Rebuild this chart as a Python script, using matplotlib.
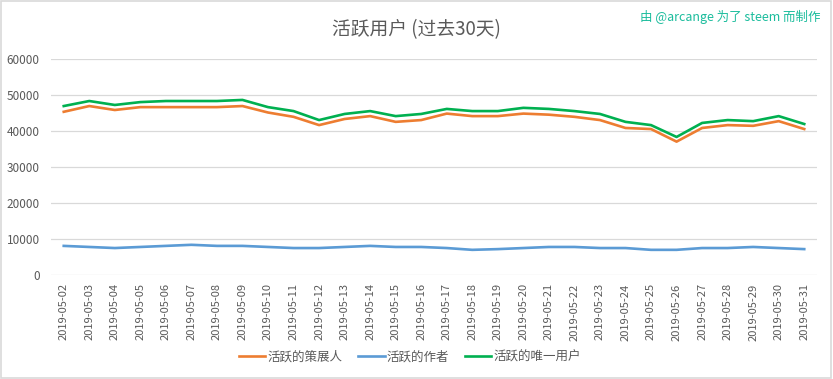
import matplotlib
matplotlib.use("Agg")
import matplotlib.pyplot as plt
from matplotlib.patches import Rectangle

plt.rcParams['font.family'] = ['Noto Sans CJK SC', 'DejaVu Sans']

dates = [f"2019-05-{d:02d}" for d in range(2, 32)]
curators = [45400, 47000, 45900, 46700, 46700, 46700, 46700, 47000, 45200, 44000,
            41700, 43400, 44200, 42600, 43100, 44900, 44200, 44200, 44900, 44600,
            44000, 43100, 40900, 40600, 37100, 40900, 41700, 41500, 42800, 40600]
authors = [8100, 7800, 7500, 7800, 8100, 8400, 8100, 8100, 7800, 7500,
           7500, 7800, 8100, 7800, 7800, 7500, 7000, 7200, 7500, 7800,
           7800, 7500, 7500, 7000, 7000, 7500, 7500, 7800, 7500, 7200]
unique = [47000, 48400, 47300, 48100, 48400, 48400, 48400, 48700, 46700, 45600,
          43100, 44800, 45600, 44200, 44800, 46200, 45600, 45600, 46500, 46200,
          45600, 44800, 42600, 41700, 38400, 42300, 43100, 42800, 44200, 42000]
series_names = ["活跃的策展人", "活跃的作者", "活跃的唯一用户"]
yticks = [0, 10000, 20000, 30000, 40000, 50000, 60000]

fig = plt.figure(figsize=(8.33, 3.79), dpi=100)
ax = fig.add_axes([0.0612, 0.2744, 0.9196, 0.5691])

x = list(range(len(dates)))
ax.plot(x, curators, color="#ED7D31", lw=1.9, label=series_names[0], solid_joinstyle="round")
ax.plot(x, authors, color="#5B9BD5", lw=1.9, label=series_names[1], solid_joinstyle="round")
ax.plot(x, unique, color="#00B050", lw=1.9, label=series_names[2], solid_joinstyle="round")

ax.set_xlim(-0.5, len(dates) - 0.5)
ax.set_ylim(0, 60000)
ax.set_yticks(yticks)
ax.set_yticklabels([str(v) for v in yticks])
ax.set_xticks(x)
ax.set_xticklabels(dates, rotation=90)
ax.tick_params(axis='both', length=0, colors="#595959", labelsize=8.5)
ax.tick_params(axis='x', labelsize=8)
ax.tick_params(axis='y', pad=8)
ax.tick_params(axis='x', pad=6)
ax.grid(axis='y', color="#D9D9D9", lw=0.9)
ax.set_axisbelow(True)
for s in ax.spines.values():
    s.set_visible(False)

fig.text(0.5, 0.922, "活跃用户 (过去30天)", ha="center", va="center",
         fontsize=13.5, color="#595959", fontweight="light")
fig.text(0.985, 0.955, "由 @arcange 为了 steem 而制作", ha="right", va="center",
         fontsize=9, color="#1ABC9C")

leg = fig.legend(loc="center", bbox_to_anchor=(0.492, 0.058), ncol=3, frameon=False,
                 fontsize=9, handlelength=2.1, handletextpad=0.15, columnspacing=1.3)
for t in leg.get_texts():
    t.set_color("#595959")

fig.patches.append(Rectangle((0.001, 0.002), 0.997, 0.995, transform=fig.transFigure,
                             fill=False, edgecolor="#D9D9D9", lw=1.2))

fig.savefig("out.png", dpi=100, facecolor="white")
